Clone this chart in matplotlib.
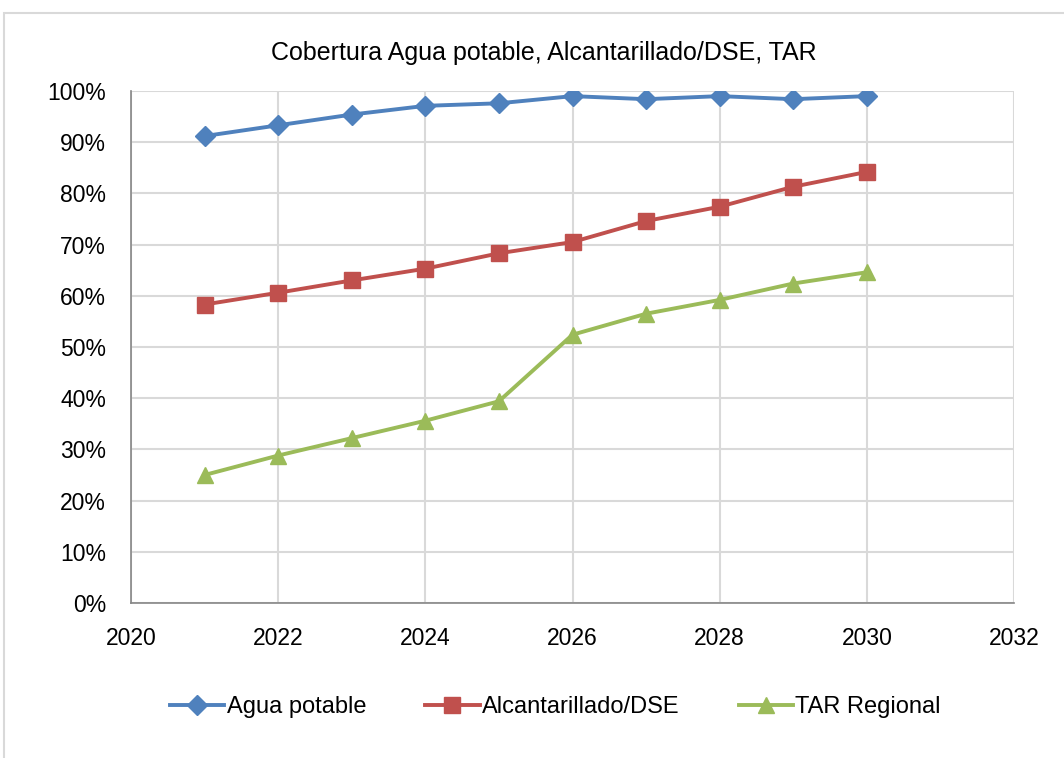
import matplotlib.pyplot as plt
from matplotlib.patches import Rectangle
from matplotlib.ticker import FuncFormatter

plt.rcParams['font.family'] = ['Liberation Sans', 'DejaVu Sans']

# datos
years = [2021, 2022, 2023, 2024, 2025, 2026, 2027, 2028, 2029, 2030]
agua = [91.2, 93.3, 95.4, 97.1, 97.6, 99.0, 98.4, 99.0, 98.4, 99.0]
alcantarillado = [58.3, 60.6, 63.0, 65.3, 68.3, 70.5, 74.6, 77.4, 81.3, 84.2]
tar = [25.0, 28.8, 32.2, 35.6, 39.4, 52.4, 56.5, 59.2, 62.4, 64.6]

fig = plt.figure(figsize=(10.64, 7.58), dpi=100)
ax = fig.add_axes([131/1064, 1 - 603/758, (1014 - 131)/1064, (603 - 91)/758])

# marco del area del grafico
fig.patches.append(Rectangle((4/1064, -0.05), 1.2, 1 - 13/758 + 0.05,
                             transform=fig.transFigure, fill=False,
                             edgecolor='#D9D9D9', linewidth=1.5))

ax.plot(years, agua, color='#4F81BD', linewidth=2.8, marker='D', markersize=10,
        label='Agua potable')
ax.plot(years, alcantarillado, color='#C0504D', linewidth=2.8, marker='s', markersize=11,
        label='Alcantarillado/DSE')
ax.plot(years, tar, color='#9BBB59', linewidth=2.8, marker='^', markersize=12,
        label='TAR Regional')

ax.set_xlim(2020, 2032)
ax.set_ylim(0, 100)
ax.set_xticks(range(2020, 2033, 2))
ax.set_yticks(range(0, 101, 10))
ax.yaxis.set_major_formatter(FuncFormatter(lambda v, p: '%d%%' % v))
ax.grid(True, color='#D9D9D9', linewidth=1.5)
ax.set_axisbelow(True)
for s in ['top', 'right']:
    ax.spines[s].set_visible(False)
for s in ['left', 'bottom']:
    ax.spines[s].set_color('#868686')
    ax.spines[s].set_linewidth(1.2)
ax.tick_params(length=0, labelsize=16.5)
ax.tick_params(axis='y', pad=18)
ax.tick_params(axis='x', pad=17)

fig.text(0.511, 1 - 53/758, 'Cobertura Agua potable, Alcantarillado/DSE, TAR',
         ha='center', va='center', fontsize=18)

fig.legend(loc='center', bbox_to_anchor=(0.522, 1 - 707/758), ncol=3, frameon=False,
           fontsize=17, handlelength=2.3, columnspacing=2.5, handletextpad=0.1)

fig.savefig('out.png', dpi=100)
